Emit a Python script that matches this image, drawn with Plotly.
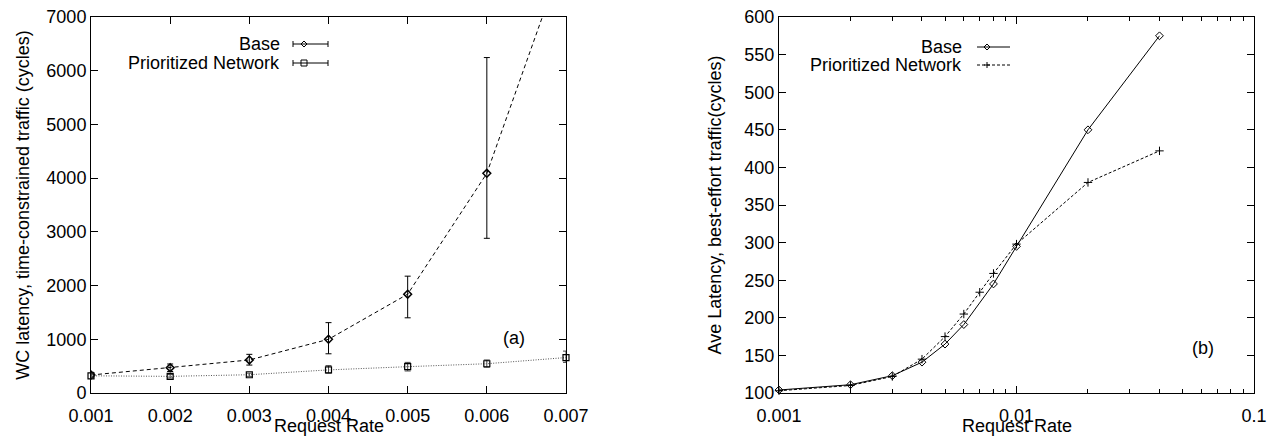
import plotly.graph_objects as go

# ---- Data: left panel (a) ----
rate_a = [0.001, 0.002, 0.003, 0.004, 0.005, 0.006, 0.007]
base_a = [335, 470, 615, 1000, 1840, 4090, 8240]
base_a_hi = [385, 540, 720, 1310, 2175, 6245, 8240]
base_a_lo = [290, 400, 520, 730, 1400, 2880, 8240]
prio_a = [320, 310, 340, 430, 490, 545, 660]
prio_a_hi = [370, 345, 370, 510, 570, 615, 780]
prio_a_lo = [280, 280, 310, 370, 410, 480, 570]

# ---- Data: right panel (b) ----
rate_b_base = [0.001, 0.002, 0.003, 0.004, 0.005, 0.006, 0.008, 0.01, 0.02, 0.04]
base_b = [104, 111, 123, 141, 165, 191, 245, 295, 450, 575]
rate_b_prio = [0.001, 0.002, 0.003, 0.004, 0.005, 0.006, 0.007, 0.008, 0.01, 0.02, 0.04]
prio_b = [103, 110, 122, 145, 175, 205, 234, 259, 298, 380, 422]

xticks_a = [0.001, 0.002, 0.003, 0.004, 0.005, 0.006, 0.007]
yticks_a = list(range(0, 7001, 1000))
xticks_b = [0.001, 0.01, 0.1]
xminor_b = [0.002, 0.003, 0.004, 0.005, 0.006, 0.007, 0.008, 0.009,
            0.02, 0.03, 0.04, 0.05, 0.06, 0.07, 0.08, 0.09]
yticks_b = list(range(100, 601, 50))

FONT = "Liberation Sans, Arial, Helvetica, sans-serif"
FS = 18
W, H = 1269, 437

fig = go.Figure()

def errs(vals, hi, lo):
    return [h - v for v, h in zip(vals, hi)], [v - l for v, l in zip(vals, lo)]

up, dn = errs(base_a, base_a_hi, base_a_lo)
fig.add_trace(go.Scatter(
    x=rate_a, y=base_a, mode="lines+markers", name="Base",
    line=dict(color="black", width=1, dash="4px,3px"),
    marker=dict(symbol="diamond-open", size=6, color="black", line=dict(width=1.5)),
    error_y=dict(type="data", array=up, arrayminus=dn, color="black", thickness=1, width=3),
    xaxis="x", yaxis="y", cliponaxis=True, showlegend=False))

up, dn = errs(prio_a, prio_a_hi, prio_a_lo)
fig.add_trace(go.Scatter(
    x=rate_a, y=prio_a, mode="lines+markers", name="Prioritized Network",
    line=dict(color="#555555", width=1, dash="1px,1.5px"),
    marker=dict(symbol="square-open", size=6, color="black", line=dict(width=1.2)),
    error_y=dict(type="data", array=up, arrayminus=dn, color="#444444", thickness=1, width=3),
    xaxis="x", yaxis="y", cliponaxis=False, showlegend=False))

fig.add_trace(go.Scatter(
    x=rate_b_base, y=base_b, mode="lines+markers", name="Base",
    line=dict(color="black", width=1),
    marker=dict(symbol="diamond-open", size=6, color="black", line=dict(width=1)),
    xaxis="x2", yaxis="y2", cliponaxis=False, showlegend=False))

fig.add_trace(go.Scatter(
    x=rate_b_prio, y=prio_b, mode="lines+markers", name="Prioritized Network",
    line=dict(color="black", width=1, dash="3px,2px"),
    marker=dict(symbol="cross-thin", size=6, color="black", line=dict(width=1, color="black")),
    xaxis="x2", yaxis="y2", cliponaxis=False, showlegend=False))

axis_common = dict(showline=True, linecolor="black", linewidth=1, mirror="allticks",
                   ticks="inside", ticklen=7, tickcolor="black", showgrid=False,
                   zeroline=False, automargin=False, ticklabeloverflow="allow",
                   tickfont=dict(family=FONT, size=FS, color="black"))

L0, L1 = 91 / W, 566 / W
R0, R1 = 779 / W, 1254 / W

fig.update_layout(
    width=W, height=H, plot_bgcolor="white", paper_bgcolor="white",
    margin=dict(l=0, r=0, t=17, b=44),
    font=dict(family=FONT, size=FS, color="black"),
    xaxis=dict(domain=[L0, L1], range=[0.001, 0.007], tickvals=xticks_a,
               ticktext=[f"{v:.3f}" for v in xticks_a], ticklabelstandoff=6,
               anchor="y", **axis_common),
    yaxis=dict(domain=[0, 1], range=[0, 7000], tickvals=yticks_a,
               title=dict(text="WC latency, time-constrained traffic (cycles)", standoff=12,
                          font=dict(size=FS)),
               anchor="x", **axis_common),
    xaxis2=dict(domain=[R0, R1], type="log", range=[-3, -1], tickvals=xticks_b,
                ticktext=["0.001", "0.01", "0.1"], ticklabelstandoff=6,
                minor=dict(tickvals=xminor_b, ticks="inside", ticklen=4, tickcolor="black"),
                anchor="y2", **axis_common),
    yaxis2=dict(domain=[0, 1], range=[100, 600], tickvals=yticks_b,
                title=dict(text="Ave Latency, best-effort traffic(cycles)", standoff=18,
                           font=dict(size=FS)),
                anchor="x2", **axis_common),
)

# ---- helpers for pixel-placed decorations ----
def py(pix):
    return (393 - pix) / 376.0

def px(pix):
    return pix / W

# x-axis titles (placed just under the tick labels, as in the reference)
for xc in ((L0 + L1) / 2, (R0 + R1) / 2):
    fig.add_annotation(text="Request Rate", x=xc, y=py(437), xref="paper", yref="paper",
                       xanchor="center", yanchor="bottom", showarrow=False, borderpad=0,
                       font=dict(family=FONT, size=FS, color="black"))

# ---- Custom gnuplot-style legends (text right-aligned, sample to the right) ----
annots = [
    ("Base", 282, 44), ("Prioritized Network", 282, 63),
    ("Base", 964, 47), ("Prioritized Network", 964, 65),
]
for txt, xr, yc in annots:
    fig.add_annotation(text=txt, x=px(xr), y=py(yc), xref="paper", yref="paper",
                       xanchor="right", yanchor="middle", showarrow=False,
                       font=dict(family=FONT, size=FS, color="black"))

fig.add_annotation(text="(a)", x=0.00634, y=1020, xref="x", yref="y", showarrow=False,
                   font=dict(family=FONT, size=FS, color="black"))
fig.add_annotation(text="(b)", x=-1.215, y=160, xref="x2", yref="y2", showarrow=False,
                   font=dict(family=FONT, size=FS, color="black"))

shapes = []

def seg(x0, y0, x1, y1, dash="solid", color="black"):
    shapes.append(dict(type="line", xref="paper", yref="paper",
                       x0=px(x0), y0=py(y0), x1=px(x1), y1=py(y1),
                       line=dict(color=color, width=1, dash=dash)))

def glyph(cx, cy, path):
    shapes.append(dict(type="path", xref="paper", yref="paper",
                       xsizemode="pixel", ysizemode="pixel",
                       xanchor=px(cx), yanchor=py(cy), path=path,
                       line=dict(color="black", width=1), fillcolor="rgba(0,0,0,0)"))

# left legend: error-bar samples
for yc, mk in ((44, "d"), (63, "s")):
    seg(293, yc, 328, yc)
    seg(293, yc - 3, 293, yc + 3)
    seg(328, yc - 3, 328, yc + 3)
    if mk == "d":
        glyph(304, yc, "M -3 0 L 0 3 L 3 0 L 0 -3 Z")
    else:
        glyph(304, yc, "M -3 -3 L 3 -3 L 3 3 L -3 3 Z")

# right legend
seg(977, 47, 1010, 47)
glyph(987, 47, "M -3 0 L 0 3 L 3 0 L 0 -3 Z")
seg(977, 65, 1010, 65, dash="3px,2px")
glyph(987, 65, "M -3 0 L 3 0 M 0 -3 L 0 3")

fig.update_layout(shapes=shapes)

fig.write_html("out.html", config={"displayModeBar": False},
               post_script="document.body.style.margin='0';document.body.style.overflow='hidden';")
